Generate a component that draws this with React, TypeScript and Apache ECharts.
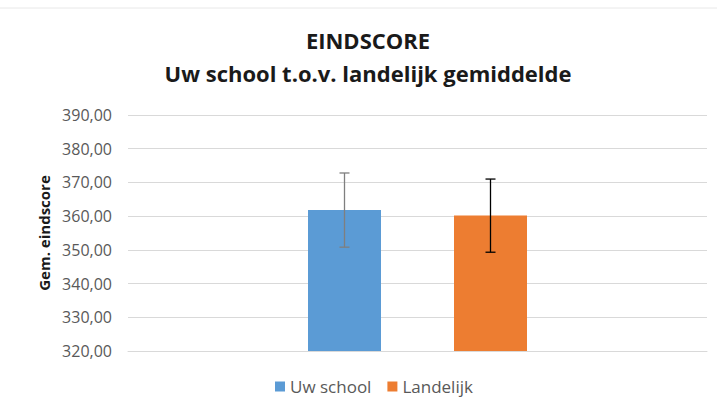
import React, { useEffect, useRef } from "react";
import * as echarts from "echarts";

const categories = [""];
const seriesNames = ["Uw school", "Landelijk"];
const uwSchool = [361.8];
const landelijk = [360.2];
const uwSchoolErr = [[350.8, 372.8]];
const landelijkErr = [[349.3, 371.0]];
const yTicks = { min: 320, max: 390, interval: 10 };

const BAR_W = 73;

export default function App() {
  const ref = useRef<HTMLDivElement>(null);
  useEffect(() => {
    if (!ref.current) return;
    const chart = echarts.init(ref.current, null, { renderer: "svg" });
    const makeErr = (offset: number, color: string) => (params: any, api: any) => {
      const x = api.value(0);
      const lo = api.coord([x, api.value(1)]);
      const hi = api.coord([x, api.value(2)]);
      const cx = lo[0] + offset;
      const cap = 5;
      const style = { stroke: color, lineWidth: 1.3 };
      return {
        type: "group",
        children: [
          { type: "line", shape: { x1: cx, y1: lo[1], x2: cx, y2: hi[1] }, style },
          { type: "line", shape: { x1: cx - cap, y1: lo[1], x2: cx + cap, y2: lo[1] }, style },
          { type: "line", shape: { x1: cx - cap, y1: hi[1], x2: cx + cap, y2: hi[1] }, style },
        ],
      };
    };
    chart.setOption({
      animation: false,
      backgroundColor: "#ffffff",
      graphic: [
        { type: "line", shape: { x1: 0, y1: 8, x2: 717, y2: 8 }, style: { stroke: "#e8e8e8", lineWidth: 1 } },
        {
          type: "text",
          x: 368,
          y: 40,
          style: { text: "EINDSCORE", font: "bold 22px 'Open Sans'", fill: "#1a1a1a", textAlign: "center", textVerticalAlign: "middle" },
        },
        {
          type: "text",
          x: 368,
          y: 73,
          style: { text: "Uw school t.o.v. landelijk gemiddelde", font: "bold 22px 'Open Sans'", fill: "#1a1a1a", textAlign: "center", textVerticalAlign: "middle" },
        },
      ],
      grid: { left: 128, right: 10, top: 115, bottom: 61 },
      legend: {
        data: seriesNames,
        bottom: 12,
        left: 270,
        icon: "rect",
        itemWidth: 10,
        itemHeight: 10,
        itemGap: 16,
        textStyle: { fontSize: 17, color: "#595959", fontFamily: "Open Sans" },
      },
      xAxis: {
        type: "category",
        data: categories,
        axisLine: { show: true, lineStyle: { color: "#d9d9d9", width: 1 } },
        axisTick: { show: false },
        axisLabel: { show: false },
      },
      yAxis: {
        type: "value",
        min: yTicks.min,
        max: yTicks.max,
        interval: yTicks.interval,
        name: "Gem. eindscore",
        nameLocation: "middle",
        nameRotate: 90,
        nameGap: 76,
        nameTextStyle: { fontSize: 15, fontWeight: "bold", color: "#1a1a1a", fontFamily: "Open Sans" },
        axisLine: { show: false },
        axisTick: { show: false },
        axisLabel: {
          fontSize: 16,
          color: "#595959",
          fontFamily: "Open Sans",
          margin: 16,
          formatter: (v: number) => v.toFixed(2).replace(".", ","),
        },
        splitLine: { lineStyle: { color: "#d9d9d9", width: 1 } },
      },
      series: [
        {
          name: seriesNames[0],
          type: "bar",
          data: uwSchool,
          barWidth: BAR_W,
          barGap: "100%",
          itemStyle: { color: "#5B9BD5" },
        },
        {
          name: seriesNames[1],
          type: "bar",
          data: landelijk,
          barWidth: BAR_W,
          barGap: "100%",
          itemStyle: { color: "#ED7D31" },
        },
        {
          type: "custom",
          name: "errUw",
          renderItem: makeErr(-BAR_W, "#7f7f7f"),
          data: uwSchoolErr.map((e, i) => [i, e[0], e[1]]),
          z: 10,
        },
        {
          type: "custom",
          name: "errLand",
          renderItem: makeErr(BAR_W, "#000000"),
          data: landelijkErr.map((e, i) => [i, e[0], e[1]]),
          z: 10,
        },
      ],
    });
    return () => chart.dispose();
  }, []);
  return (
    <div
      ref={ref}
      style={{ position: "absolute", left: 0, top: 0, width: 717, height: 412 }}
    />
  );
}
